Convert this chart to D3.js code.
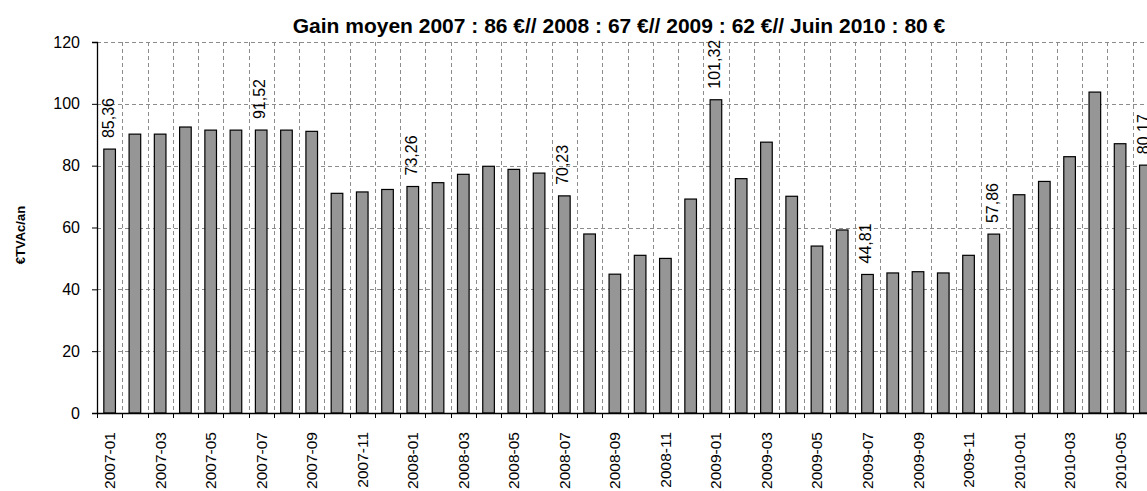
<!DOCTYPE html>
<html><head><meta charset="utf-8">
<script src="https://cdn.jsdelivr.net/npm/d3@7"></script>
<style>body{margin:0;background:#fff;}svg{display:block;font-family:"Liberation Sans",Arial,sans-serif;}</style>
</head><body><div id="chart"></div>
<script>
const months = ["2007-01","2007-02","2007-03","2007-04","2007-05","2007-06","2007-07","2007-08","2007-09","2007-10","2007-11","2007-12",
"2008-01","2008-02","2008-03","2008-04","2008-05","2008-06","2008-07","2008-08","2008-09","2008-10","2008-11","2008-12",
"2009-01","2009-02","2009-03","2009-04","2009-05","2009-06","2009-07","2009-08","2009-09","2009-10","2009-11","2009-12",
"2010-01","2010-02","2010-03","2010-04","2010-05","2010-06"];
const values = [85.36,90.2,90.2,92.5,91.5,91.5,91.52,91.5,91.1,71.05,71.5,72.3,
73.26,74.5,77.2,79.8,78.8,77.6,70.23,57.9,44.9,51.0,50.0,69.2,
101.32,75.8,87.6,70.1,54.0,59.2,44.81,45.3,45.7,45.3,51.0,57.86,
70.6,74.9,82.9,103.8,87.1,80.17];
const labelledIdx = [0,6,12,18,24,30,35,41];
const yTicks = [0,20,40,60,80,100,120];
const title = "Gain moyen 2007 : 86 €// 2008 : 67 €// 2009 : 62 €// Juin 2010 : 80 €";
const yTitle = "€TVAc/an";

const W = 1147, H = 491;
const m = {left:97, top:42, bottom:413, right:1158};
const svg = d3.select("#chart").append("svg").attr("width",W).attr("height",H);

const x = d3.scaleBand().domain(months).range([m.left, m.right]).paddingInner(0.54).paddingOuter(0.27);
const xb = d3.scaleBand().domain(months).range([m.left, m.right]);
const y = d3.scaleLinear().domain([0,120]).range([m.bottom, m.top]);

// horizontal grid
svg.append("g").selectAll("line").data(yTicks.filter(d=>d>0)).join("line")
  .attr("x1",m.left).attr("x2",W).attr("y1",d=>Math.round(y(d))+0.5).attr("y2",d=>Math.round(y(d))+0.5)
  .attr("stroke","#8c8c8c").attr("stroke-width",1).attr("stroke-dasharray","4,3");
// vertical grid at category boundaries
svg.append("g").selectAll("line").data(months.slice(1)).join("line")
  .attr("x1",d=>Math.round(xb(d))+0.5).attr("x2",d=>Math.round(xb(d))+0.5)
  .attr("y1",m.top).attr("y2",m.bottom)
  .attr("stroke","#8c8c8c").attr("stroke-width",1).attr("stroke-dasharray","4,3");

// bars
svg.append("g").selectAll("rect").data(values).join("rect")
  .attr("x",(d,i)=>x(months[i])).attr("width",x.bandwidth())
  .attr("y",d=>y(d)).attr("height",d=>y(0)-y(d))
  .attr("fill","#969696").attr("stroke","#000").attr("stroke-width",1.2);

// data labels
svg.append("g").selectAll("text").data(labelledIdx).join("text")
  .attr("transform",i=>`translate(${xb(months[i])+xb.bandwidth()/2+4},${y(values[i])-11}) rotate(-90)`)
  .attr("font-size",16).attr("fill","#000")
  .text(i=>values[i].toFixed(2).replace(".",","));

// y axis
const yAxis = d3.axisLeft(y).tickValues(yTicks).tickSize(5).tickPadding(12);
const gy = svg.append("g").attr("transform",`translate(${m.left},0)`).call(yAxis);
gy.select(".domain").attr("stroke","#000").attr("stroke-width",1.3);
gy.selectAll(".tick line").attr("stroke","#000");
gy.selectAll("text").attr("font-size",16).attr("font-family","Liberation Sans, Arial, sans-serif").attr("fill","#000");

// x axis (ticks at boundaries)
svg.append("line").attr("x1",m.left).attr("x2",W).attr("y1",m.bottom+0.5).attr("y2",m.bottom+0.5)
  .attr("stroke","#000").attr("stroke-width",1.3);
svg.append("g").selectAll("line").data(months).join("line")
  .attr("x1",d=>Math.round(xb(d))+0.5).attr("x2",d=>Math.round(xb(d))+0.5)
  .attr("y1",m.bottom).attr("y2",m.bottom+5).attr("stroke","#000");
svg.append("g").selectAll("text").data(months.filter((d,i)=>i%2===0)).join("text")
  .attr("transform",d=>`translate(${xb(d)+xb.bandwidth()/2+5.5},${m.bottom+19}) rotate(-90)`)
  .attr("text-anchor","end").attr("font-size",15.5).attr("fill","#000").text(d=>d);

// titles
svg.append("text").attr("x",619).attr("y",33).attr("text-anchor","middle")
  .attr("font-size",21).attr("font-weight","bold").text(title);
svg.append("text").attr("transform","translate(25,235) rotate(-90)").attr("text-anchor","middle")
  .attr("font-size",13).attr("font-weight","bold").text(yTitle);
</script></body></html>
